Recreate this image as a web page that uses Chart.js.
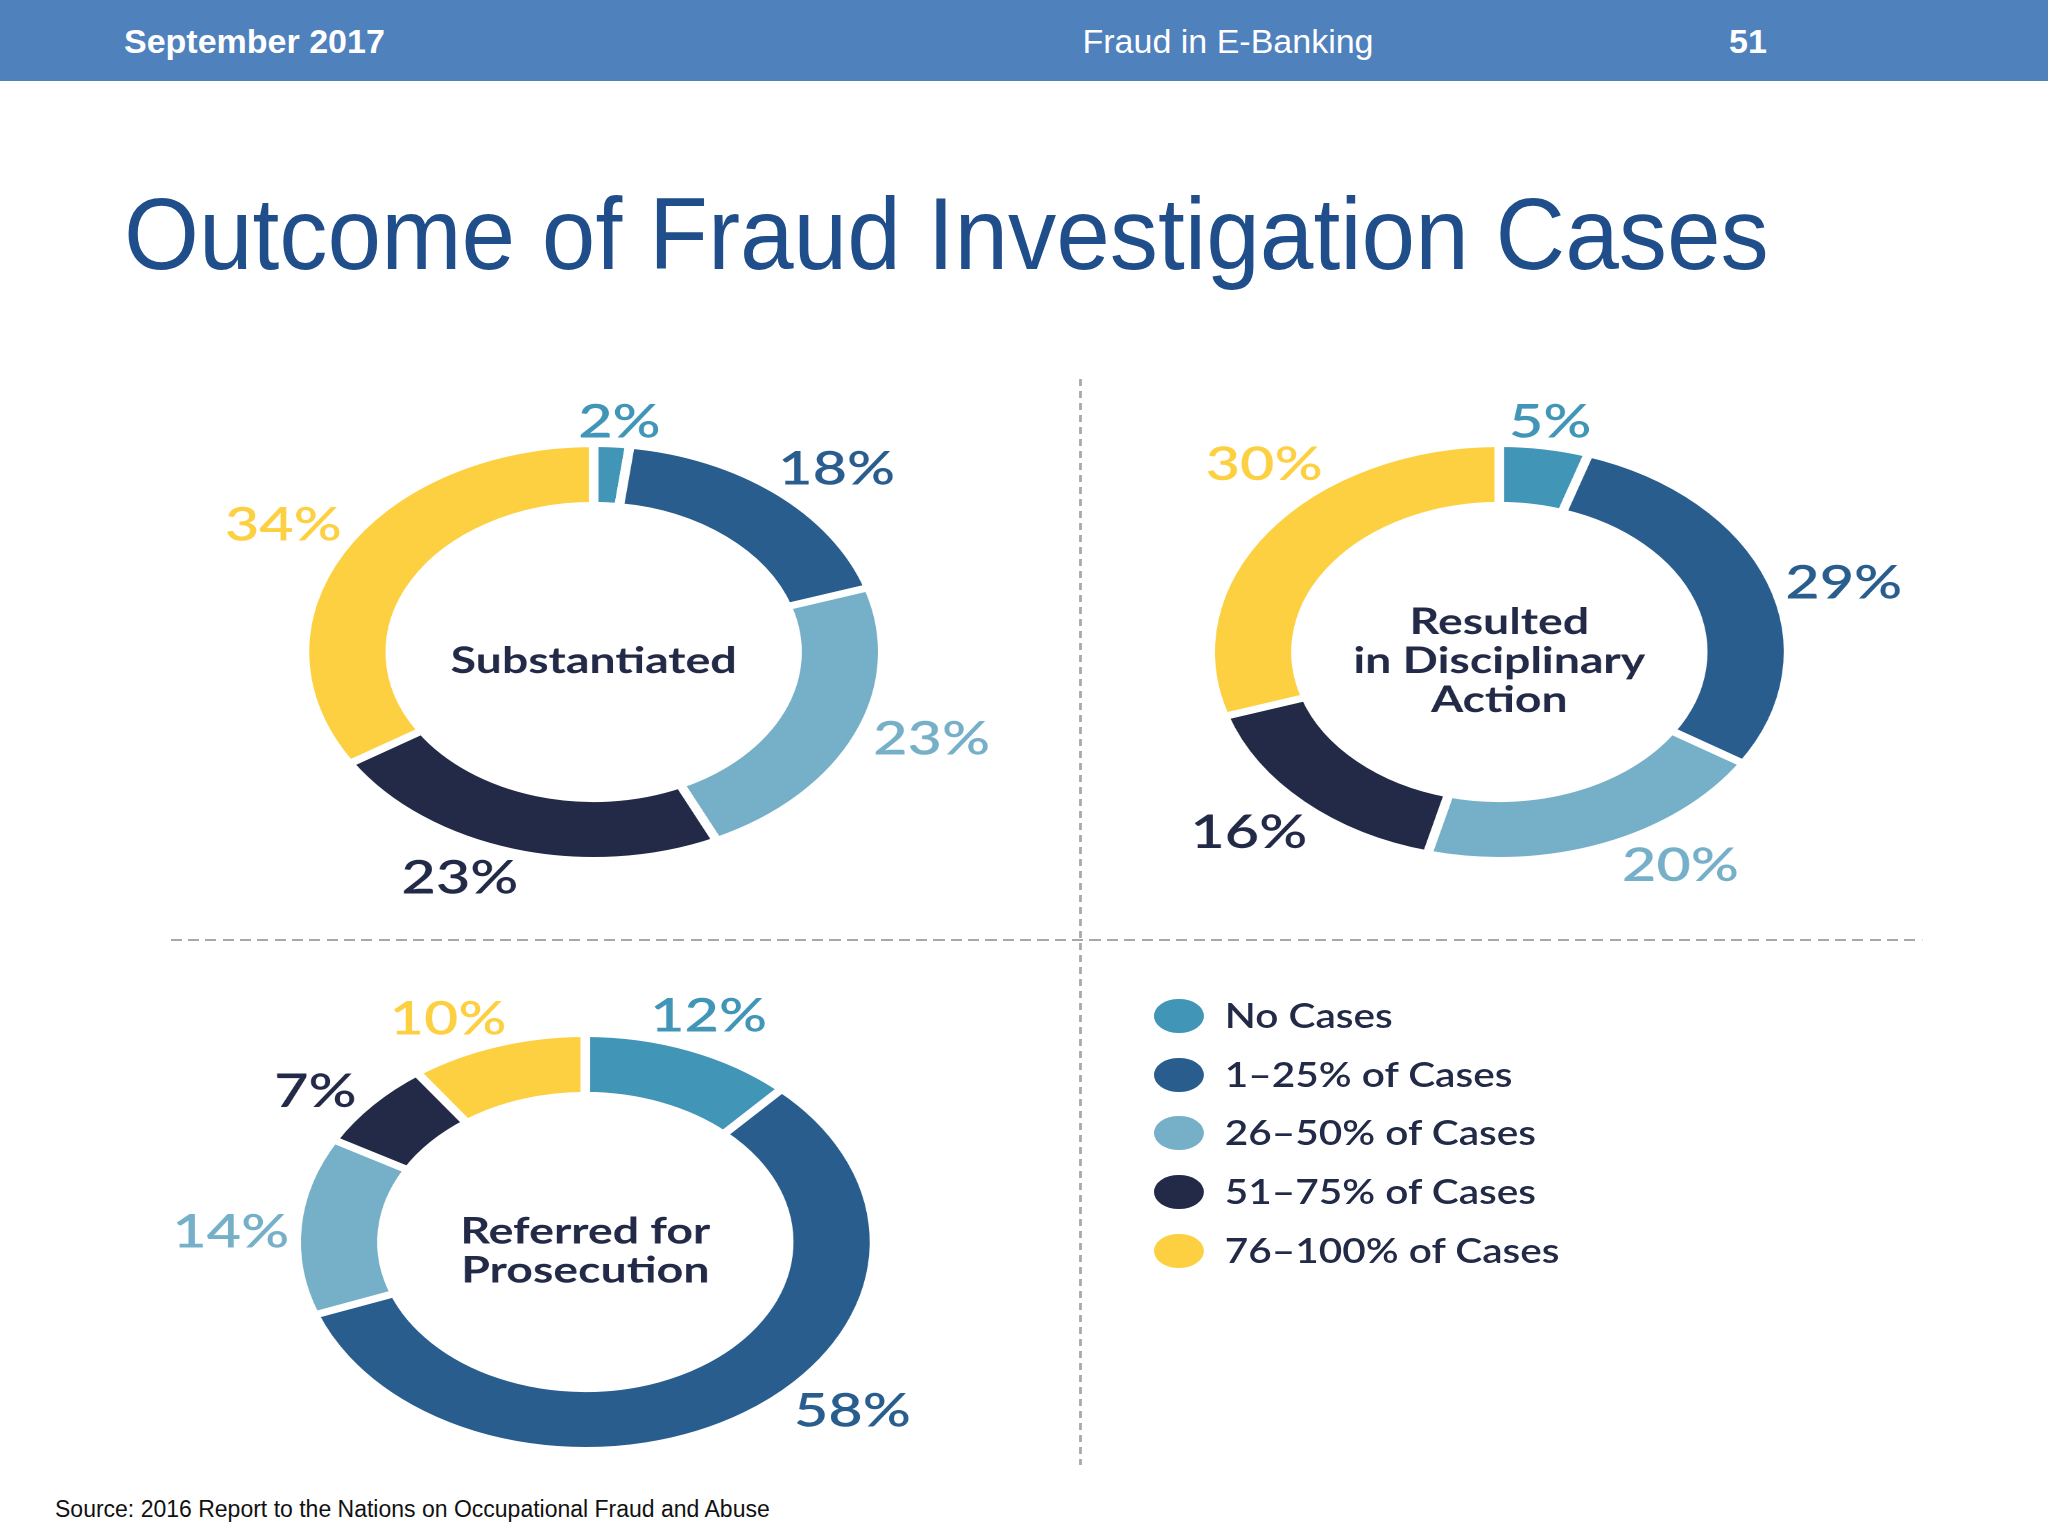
<!DOCTYPE html>
<html>
<head>
<meta charset="utf-8">
<script src="https://cdn.jsdelivr.net/npm/chart.js@4.4.1/dist/chart.umd.min.js"></script>
<style>
  html, body { margin: 0; padding: 0; background: #fff; }
  body { width: 2048px; height: 1536px; position: relative; overflow: hidden; font-family: "Liberation Sans", Arial, sans-serif; }
  .abs { position: absolute; line-height: 1; white-space: nowrap; }
  #header { position: absolute; left: 0; top: 0; width: 2048px; height: 81px; background: #4f81bd; }
  #graphic { position: absolute; left: 0; top: 0; width: 1477px; height: 1536px; transform: scaleX(1.387); transform-origin: 0 0; }
  #graphic canvas { position: absolute; }
  .vdash { position: absolute; width: 1.6px; background: repeating-linear-gradient(to bottom, #a8a8a8 0 7px, transparent 7px 12px); }
  .hdash { position: absolute; height: 2px; background: repeating-linear-gradient(to right, #a8a8a8 0 8px, transparent 8px 12.5px); }
  .dot { position: absolute; border-radius: 50%; }
  .legtext { position: absolute; line-height: 1; white-space: nowrap; font-family: Lato, sans-serif; font-weight: 600; font-size: 34px; color: #222a47; transform-origin: 0 0; }
</style>
</head>
<body>
<div id="header"></div>
<div class="abs" style="left:124px; top:24px; font-size:34px; font-weight:bold; color:#fff;">September 2017</div>
<div class="abs" style="left:1228px; top:24px; font-size:34px; color:#fff; transform:translateX(-50%);">Fraud in E-Banking</div>
<div class="abs" style="left:1748px; top:24px; font-size:34px; font-weight:bold; color:#fff; transform:translateX(-50%);">51</div>
<div class="abs" id="title" style="left:124px; top:183px; font-size:102px; color:#1f4e8a; transform:scaleX(0.945); transform-origin:0 0;">Outcome of Fraud Investigation Cases</div>
<div class="abs" style="left:55px; top:1498px; font-size:23px; color:#111;">Source: 2016 Report to the Nations on Occupational Fraud and Abuse</div>

<div id="graphic">
  <div class="vdash" style="left:778px; top:379px; height:1086px;"></div>
  <div class="hdash" style="left:122.6px; top:939px; width:1263px;"></div>
  <canvas id="c1" width="640" height="560" style="left:108.4px; top:371.7px;"></canvas>
  <canvas id="c2" width="640" height="560" style="left:760.5px; top:371.7px;"></canvas>
  <canvas id="c3" width="640" height="560" style="left:102.3px; top:962px;"></canvas>
  <div id="legend"></div>
</div>

<script>
// categories and values
const categories = ["No Cases", "1–25% of Cases", "26–50% of Cases", "51–75% of Cases", "76–100% of Cases"];
const substantiated = [2, 18, 23, 23, 34];
const disciplinary = [5, 29, 20, 16, 30];
const prosecution = [12, 58, 14, 7, 10];

const palette = ["#4195b7", "#285d8e", "#76b0c8", "#222a47", "#fdd042"];

// the labels in the original are not all on the slice middle, small turns in degrees
const nudgeSubstantiated = [1, 4, -4, 7, 1];
const nudgeDisciplinary = [0, 4, -10, 2, 12];
const nudgeProsecution = [0, -15, -2, -4, -6];

// the whole graphic is stretched sideways, text is a bit narrower than Lato
const PCT_FONT = 46, PCT_SQUEEZE = 0.93;
const MID_FONT = 36, MID_SQUEEZE = 0.93, MID_LINE = 39, MID_SHIFT = 8;
const LABEL_GAP = 8;

const ringLabels = {
  id: "ringLabels",
  afterDatasetsDraw(chart, args, opts) {
    const ctx = chart.ctx;
    const ds = chart.data.datasets[0];
    const meta = chart.getDatasetMeta(0);
    const half = ds.borderWidth / 2;
    const nudge = opts.nudge || [];
    let cx = 0, cy = 0;

    ctx.save();
    ctx.font = "600 " + PCT_FONT + "px Lato";
    ctx.textAlign = "center";
    ctx.textBaseline = "alphabetic";
    meta.data.forEach((arc, i) => {
      const p = arc.getProps(["x", "y", "startAngle", "endAngle", "outerRadius"], true);
      cx = p.x; cy = p.y;
      const a = (p.startAngle + p.endAngle) / 2 + ((nudge[i] || 0) * Math.PI) / 180;
      const text = ds.data[i] + "%";
      const w = ctx.measureText(text).width * PCT_SQUEEZE;
      const h = PCT_FONT * 0.72;
      const r = p.outerRadius - half + LABEL_GAP + Math.abs(Math.cos(a)) * w / 2 + Math.abs(Math.sin(a)) * h / 2;
      const x = p.x + Math.cos(a) * r;
      const y = p.y + Math.sin(a) * r;
      ctx.save();
      ctx.translate(x, y + h / 2);
      ctx.scale(PCT_SQUEEZE, 1);
      ctx.fillStyle = ds.backgroundColor[i];
      ctx.fillText(text, 0, 0);
      ctx.restore();
    });

    const lines = opts.lines || [];
    ctx.font = "700 " + MID_FONT + "px Lato";
    ctx.fillStyle = "#222a47";
    lines.forEach((line, k) => {
      const capMid = cy + MID_SHIFT + (k - (lines.length - 1) / 2) * MID_LINE;
      ctx.save();
      ctx.translate(cx, capMid + MID_FONT * 0.358);
      ctx.scale(MID_SQUEEZE, 1);
      ctx.fillText(line, 0, 0);
      ctx.restore();
    });
    ctx.restore();
  }
};

function makeRing(canvasId, values, lines, nudge) {
  const ctx = document.getElementById(canvasId).getContext("2d");
  return new Chart(ctx, {
    type: "doughnut",
    data: {
      labels: categories,
      datasets: [
        {
          data: values,
          backgroundColor: palette,
          borderColor: "#ffffff",
          borderWidth: 7,
          hoverOffset: 0,
        },
      ],
    },
    options: {
      responsive: false,
      devicePixelRatio: 2,
      animation: false,
      events: [],
      radius: 208.5,
      cutout: "70.3%",
      layout: { padding: 0 },
      plugins: {
        legend: { display: false },
        tooltip: { enabled: false },
        ringLabels: { lines: lines, nudge: nudge },
      },
    },
    plugins: [ringLabels],
  });
}

makeRing("c1", substantiated, ["Substantiated"], nudgeSubstantiated);
makeRing("c2", disciplinary, ["Resulted", "in Disciplinary", "Action"], nudgeDisciplinary);
makeRing("c3", prosecution, ["Referred for", "Prosecution"], nudgeProsecution);

// legend, one row per category
const legend = document.getElementById("legend");
const LEG_X = 850, LEG_TOP = 1016, LEG_STEP = 58.7, LEG_SQUEEZE = 0.86;
categories.forEach((name, i) => {
  const yMid = LEG_TOP + i * LEG_STEP;
  const dot = document.createElement("div");
  dot.className = "dot";
  dot.style.cssText = `left:${LEG_X - 17.6}px; top:${yMid - 17}px; width:35.3px; height:34px; background:${palette[i]};`;
  legend.appendChild(dot);
  const t = document.createElement("div");
  t.className = "legtext";
  t.textContent = name;
  t.style.left = (LEG_X + 32.5) + "px";
  t.style.top = (yMid - 34 * 0.529) + "px";
  t.style.transform = `scaleX(${LEG_SQUEEZE})`;
  legend.appendChild(t);
});
</script>
</body>
</html>
